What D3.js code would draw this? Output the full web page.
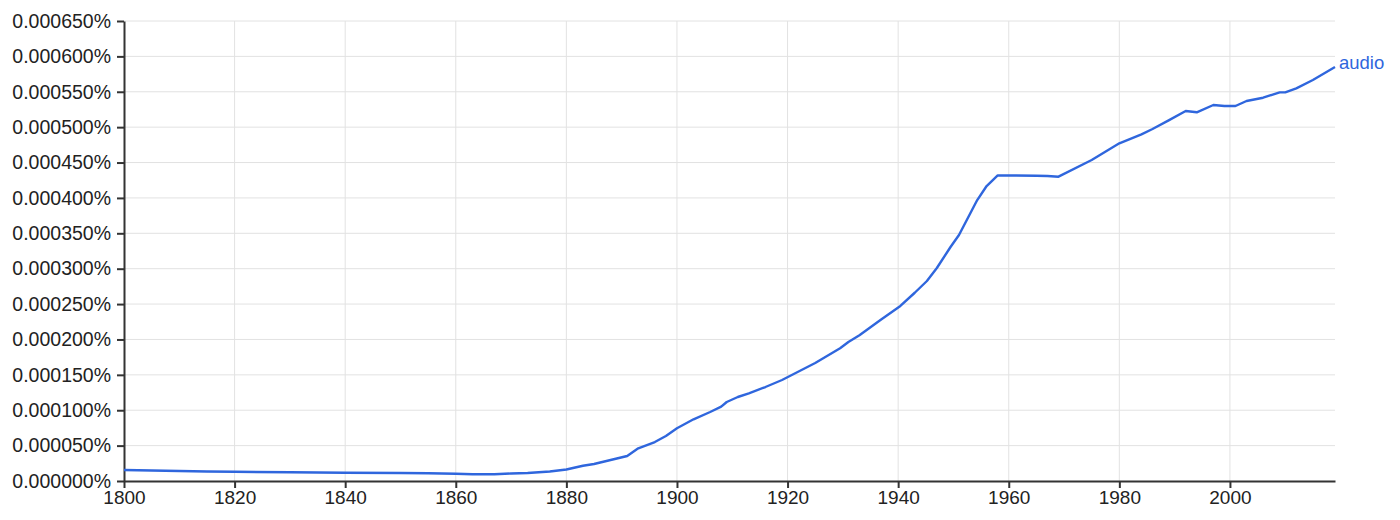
<!DOCTYPE html>
<html>
<head>
<meta charset="utf-8">
<script src="https://cdn.jsdelivr.net/npm/d3@7"></script>
<style>
  html, body { margin: 0; padding: 0; background: #fff; }
  svg { display: block; font-family: "Liberation Sans", Arial, Helvetica, sans-serif; }
</style>
</head>
<body>
<svg id="chart" width="1400" height="520"></svg>
<script>
// ---- data (percent values) ----
const seriesName = "audio";
const years = [1800,1805,1810,1815,1820,1830,1840,1850,1855,1860,1863,1867,1870,1873,1877,1880,1883,1885,1888,1891,1893,1896,1898,1900,1903,1906,1908,1909,1911,1913,1916,1919,1925,1929.5,1931,1933,1936.8,1940.4,1943,1945.2,1947,1949.5,1951,1954.3,1956,1958,1960,1965,1967,1969,1975,1980,1984,1986,1989,1992,1994,1997,1999,2001,2003,2006,2009,2010,2012,2015,2019];
const values = [0.0000155,0.0000148,0.0000141,0.0000134,0.0000131,0.0000123,0.0000117,0.0000113,0.0000109,0.0000103,0.0000095,0.0000095,0.0000106,0.0000113,0.0000134,0.0000162,0.0000216,0.0000240,0.0000297,0.0000353,0.0000462,0.0000551,0.0000636,0.0000745,0.0000872,0.0000975,0.0001050,0.0001116,0.0001187,0.0001239,0.0001328,0.0001427,0.0001667,0.0001875,0.0001964,0.0002060,0.0002275,0.0002473,0.0002660,0.0002826,0.0003010,0.0003310,0.0003476,0.0003970,0.0004168,0.0004317,0.0004317,0.0004314,0.0004310,0.0004300,0.0004536,0.0004772,0.0004899,0.0004974,0.0005100,0.0005228,0.0005210,0.0005313,0.0005299,0.0005299,0.0005370,0.0005416,0.0005492,0.0005492,0.0005549,0.0005666,0.0005850];
const xTicks = [1800,1820,1840,1860,1880,1900,1920,1940,1960,1980,2000];
const yTicks = [0,0.00005,0.0001,0.00015,0.0002,0.00025,0.0003,0.00035,0.0004,0.00045,0.0005,0.00055,0.0006,0.00065];

const data = years.map((y, i) => ({ year: y, value: values[i] }));

const svg = d3.select("#chart");
const margin = { left: 124, right: 65, top: 21, bottom: 39 };
const W = 1400, H = 520;

const x = d3.scaleLinear().domain([1800, 2019]).range([margin.left, W - margin.right]);
const y = d3.scaleLinear().domain([0, 0.00065]).range([H - margin.bottom, margin.top]);

// grid
svg.append("g")
  .selectAll("line.h")
  .data(yTicks.slice(1))
  .join("line")
  .attr("x1", x(1800)).attr("x2", x(2019))
  .attr("y1", d => y(d)).attr("y2", d => y(d))
  .attr("stroke", "#e2e2e2").attr("stroke-width", 1);
svg.append("g")
  .selectAll("line.v")
  .data(xTicks.slice(1))
  .join("line")
  .attr("x1", d => x(d)).attr("x2", d => x(d))
  .attr("y1", y(0)).attr("y2", y(0.00065))
  .attr("stroke", "#e2e2e2").attr("stroke-width", 1);

// axes
const fmt = d => d3.format(".6f")(d) + "%";
const yAxis = svg.append("g")
  .attr("transform", `translate(${x(1800)},0)`)
  .call(d3.axisLeft(y).tickValues(yTicks).tickFormat(fmt).tickSize(7).tickPadding(6).tickSizeOuter(0));
const xAxis = svg.append("g")
  .attr("transform", `translate(0,${y(0)})`)
  .call(d3.axisBottom(x).tickValues(xTicks).tickFormat(d3.format("d")).tickSize(7).tickPadding(3).tickSizeOuter(0));

[yAxis, xAxis].forEach(a => {
  a.select(".domain").attr("stroke", "#333").attr("stroke-width", 2);
  a.selectAll(".tick line").attr("stroke", "#333").attr("stroke-width", 2);
  a.selectAll(".tick text").attr("fill", "#222").style("font-size", "19px")
    .style("font-family", '"Liberation Sans", Arial, Helvetica, sans-serif');
});
yAxis.selectAll(".tick text").style("font-size", "19.5px");

// line
const line = d3.line().x(d => x(d.year)).y(d => y(d.value));
svg.append("path")
  .datum(data)
  .attr("fill", "none")
  .attr("stroke", "#2f66dd")
  .attr("stroke-width", 2.4)
  .attr("stroke-linejoin", "round")
  .attr("d", line);

const last = data[data.length - 1];
svg.append("text")
  .attr("x", x(last.year) + 4)
  .attr("y", y(last.value))
  .attr("dy", "0.1em")
  .attr("fill", "#2f66dd")
  .style("font-size", "18.5px")
  .text(seriesName);
</script>
</body>
</html>
